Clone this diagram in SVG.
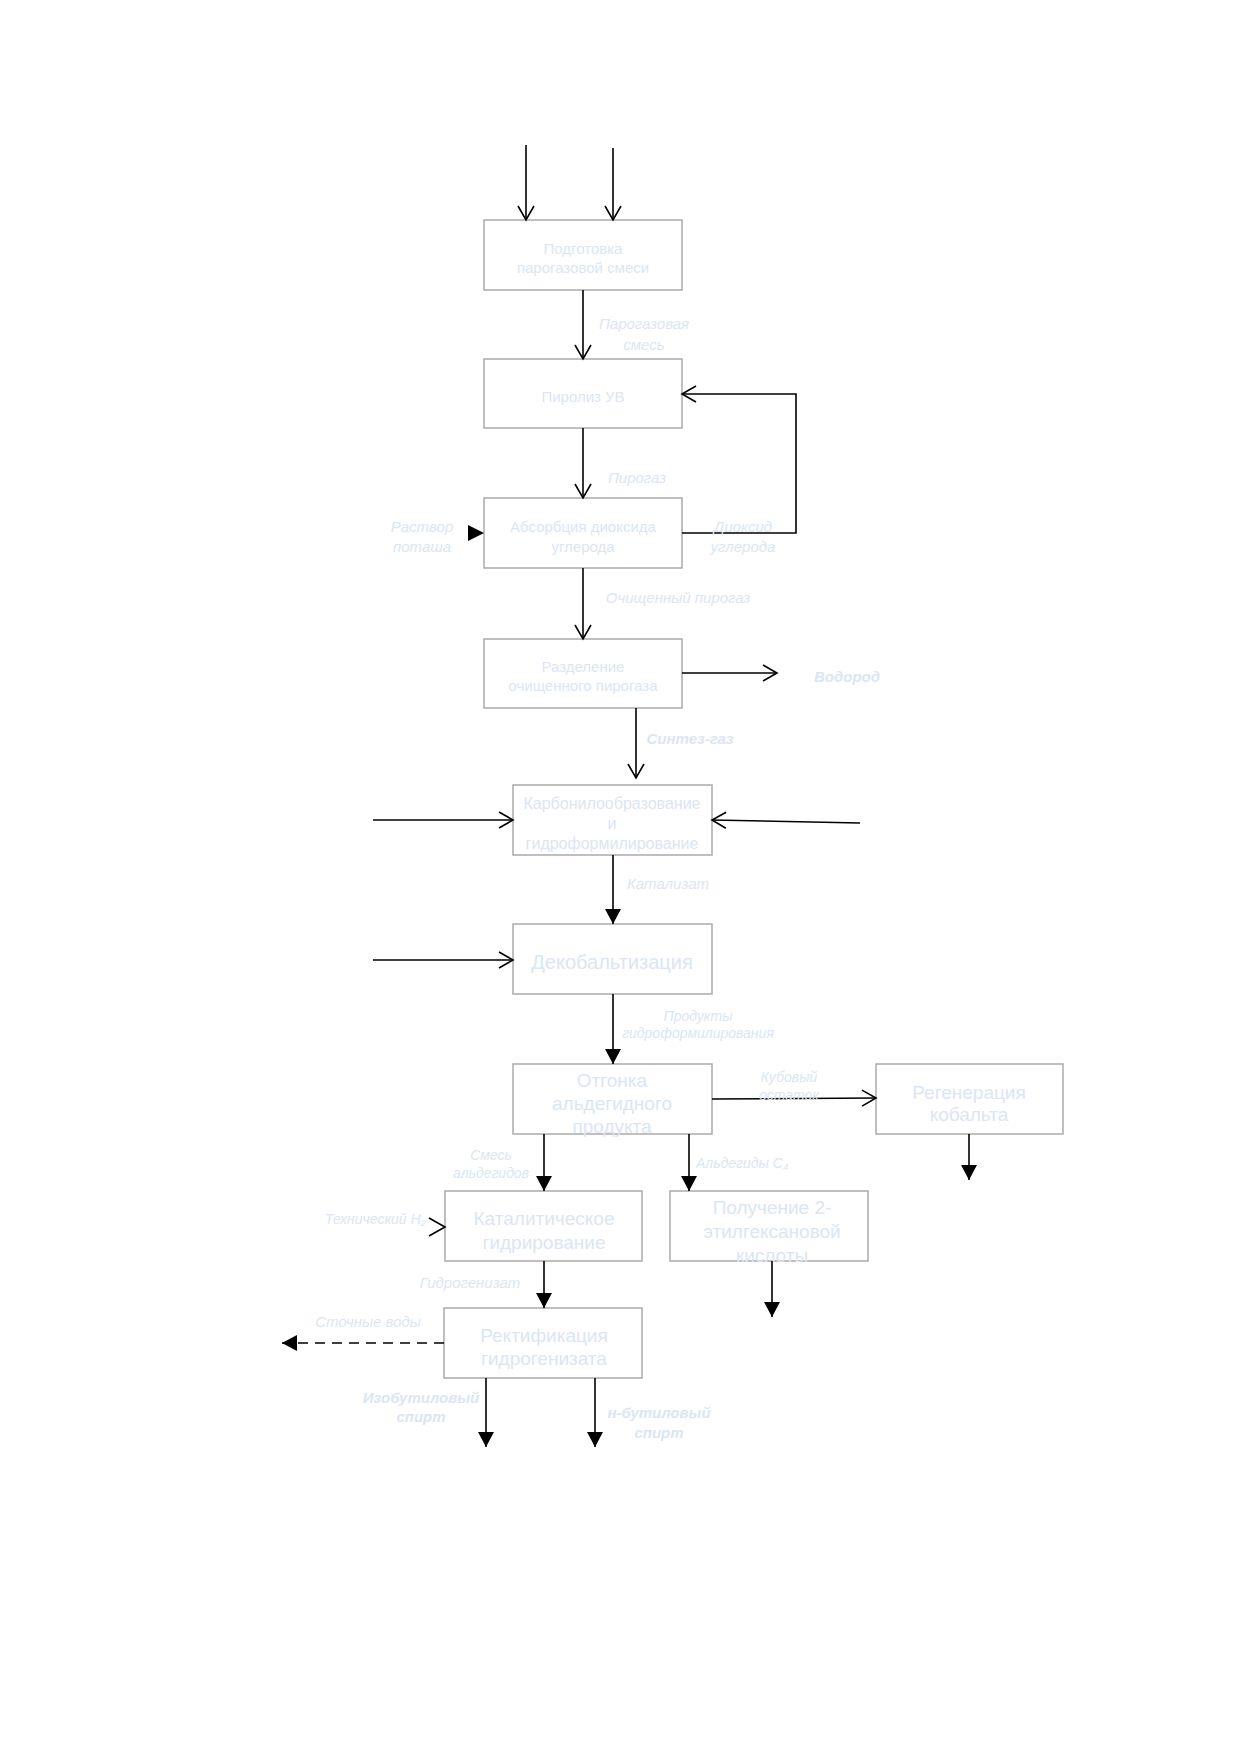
<svg xmlns="http://www.w3.org/2000/svg" width="1240" height="1754" viewBox="0 0 1240 1754">
<defs>
<marker id="open" viewBox="-16 -10 18 20" refX="0" refY="0" markerWidth="18" markerHeight="20" markerUnits="userSpaceOnUse" orient="auto">
<path d="M -14 -8 L 0 0 L -14 8" fill="none" stroke="#000" stroke-width="1.6"/>
</marker>
<marker id="fill" viewBox="-16 -10 18 20" refX="0" refY="0" markerWidth="18" markerHeight="20" markerUnits="userSpaceOnUse" orient="auto">
<path d="M -15 -8 L 0 0 L -15 8 Z" fill="#000"/>
</marker>
<style>
.box{fill:#fff;stroke:#aaaaaa;stroke-width:1.5}
.t{font-family:"Liberation Sans",Arial,sans-serif;fill:#dae6f4;text-anchor:middle}
.n15{font-size:15px}
.n16{font-size:16px}
.n19{font-size:19px}
.n20{font-size:20px}
.lab{font-family:"Liberation Sans",Arial,sans-serif;fill:#dae6f4;font-style:italic;font-size:15px;text-anchor:middle}
.sm{font-size:14px}
.b{font-weight:bold}
.c{fill:none;stroke:#000;stroke-width:1.6}
.o{marker-end:url(#open)}
.f{marker-end:url(#fill)}
</style>
</defs>
<rect width="1240" height="1754" fill="#fff"/>

<g id="n1"><rect class="box" x="484" y="220" width="198" height="70"/>
<text class="t n15" x="583" y="254">Подготовка</text><text class="t n15" x="583" y="273">парогазовой смеси</text></g>
<g id="n2"><rect class="box" x="484" y="359" width="198" height="69"/>
<text class="t n15" x="583" y="402">Пиролиз УВ</text></g>
<g id="n3"><rect class="box" x="484" y="498" width="198" height="70"/>
<text class="t n15" x="583" y="532">Абсорбция диоксида</text><text class="t n15" x="583" y="552">углерода</text></g>
<g id="n4"><rect class="box" x="484" y="639" width="198" height="69"/>
<text class="t n15" x="583" y="672">Разделение</text><text class="t n15" x="583" y="691">очищенного пирогаза</text></g>
<g id="n5"><rect class="box" x="513" y="785" width="199" height="70"/>
<text class="t n16" x="612" y="809">Карбонилообразование</text><text class="t n16" x="612" y="829">и</text><text class="t n16" x="612" y="849">гидроформилирование</text></g>
<g id="n6"><rect class="box" x="513" y="924" width="199" height="70"/>
<text class="t n20" x="612" y="969">Декобальтизация</text></g>
<g id="n7"><rect class="box" x="513" y="1064" width="199" height="70"/>
<text class="t n19" x="612" y="1087">Отгонка</text><text class="t n19" x="612" y="1110">альдегидного</text><text class="t n19" x="612" y="1133">продукта</text></g>
<g id="n8"><rect class="box" x="876" y="1064" width="187" height="70"/>
<text class="t n19" x="969" y="1099">Регенерация</text><text class="t n19" x="969" y="1121">кобальта</text></g>
<g id="n9"><rect class="box" x="445" y="1191" width="197" height="70"/>
<text class="t n19" x="544" y="1225">Каталитическое</text><text class="t n19" x="544" y="1249">гидрирование</text></g>
<g id="n10"><rect class="box" x="670" y="1191" width="198" height="70"/>
<text class="t n19" x="772" y="1214">Получение 2-</text><text class="t n19" x="772" y="1238">этилгексановой</text><text class="t n19" x="772" y="1262">кислоты</text></g>
<g id="n11"><rect class="box" x="444" y="1308" width="198" height="70"/>
<text class="t n19" x="544" y="1342">Ректификация</text><text class="t n19" x="544" y="1365">гидрогенизата</text></g>

<g id="connectors">
<line class="c o" x1="526" y1="145" x2="526" y2="220"/>
<line class="c o" x1="613" y1="148" x2="613" y2="220"/>
<line class="c o" x1="583" y1="290" x2="583" y2="359"/>
<line class="c o" x1="583" y1="428" x2="583" y2="498"/>
<polyline class="c o" points="682,533 796,533 796,394 682,394"/>
<path d="M 468 525 L 484 533 L 468 541 Z" fill="#000"/>
<line class="c o" x1="583" y1="568" x2="583" y2="639"/>
<line class="c o" x1="682" y1="673" x2="777" y2="673"/>
<line class="c o" x1="636" y1="708" x2="636" y2="778"/>
<line class="c o" x1="373" y1="820" x2="513" y2="820"/>
<line class="c o" x1="860" y1="823" x2="712" y2="820"/>
<line class="c f" x1="613" y1="855" x2="613" y2="924"/>
<line class="c o" x1="373" y1="960" x2="513" y2="960"/>
<line class="c f" x1="613" y1="994" x2="613" y2="1064"/>
<line class="c o" x1="712" y1="1099" x2="876" y2="1098"/>
<line class="c f" x1="969" y1="1134" x2="969" y2="1180"/>
<line class="c f" x1="544" y1="1134" x2="544" y2="1191"/>
<line class="c f" x1="689" y1="1134" x2="689" y2="1191"/>
<polyline class="c" points="429,1218 445,1227 429,1236"/>
<line class="c f" x1="772" y1="1261" x2="772" y2="1317"/>
<line class="c f" x1="544" y1="1261" x2="544" y2="1308"/>
<line class="c f" x1="444" y1="1343" x2="282" y2="1343" stroke-dasharray="10 7"/>
<line class="c f" x1="486" y1="1378" x2="486" y2="1447"/>
<line class="c f" x1="595" y1="1378" x2="595" y2="1447"/>
</g>

<g id="labels">
<text class="lab" x="644" y="329">Парогазовая</text><text class="lab" x="644" y="350">смесь</text>
<text class="lab" x="637" y="483">Пирогаз</text>
<text class="lab" x="422" y="532">Раствор</text><text class="lab" x="422" y="552">поташа</text>
<text class="lab" x="743" y="532">Диоксид</text><text class="lab" x="743" y="552">углерода</text>
<text class="lab" x="678" y="603">Очищенный пирогаз</text>
<text class="lab b" x="847" y="682">Водород</text>
<text class="lab b" x="690" y="744">Синтез-газ</text>
<text class="lab" x="668" y="889">Катализат</text>
<text class="lab sm" x="698" y="1021">Продукты</text><text class="lab sm" x="698" y="1038">гидроформилирования</text>
<text class="lab sm" x="789" y="1082">Кубовый</text><text class="lab sm" x="789" y="1100">остаток</text>
<text class="lab sm" x="491" y="1160">Смесь</text><text class="lab sm" x="491" y="1178">альдегидов</text>
<text class="lab sm" x="696" y="1168" style="text-anchor:start">Альдегиды С₄</text>
<text class="lab sm" x="426" y="1224" style="text-anchor:end">Технический Н₂</text>
<text class="lab" x="470" y="1288">Гидрогенизат</text>
<text class="lab" x="368" y="1327">Сточные воды</text>
<text class="lab b" x="421" y="1403">Изобутиловый</text><text class="lab b" x="421" y="1422">спирт</text>
<text class="lab b" x="659" y="1418">н-бутиловый</text><text class="lab b" x="659" y="1438">спирт</text>
</g>
</svg>
